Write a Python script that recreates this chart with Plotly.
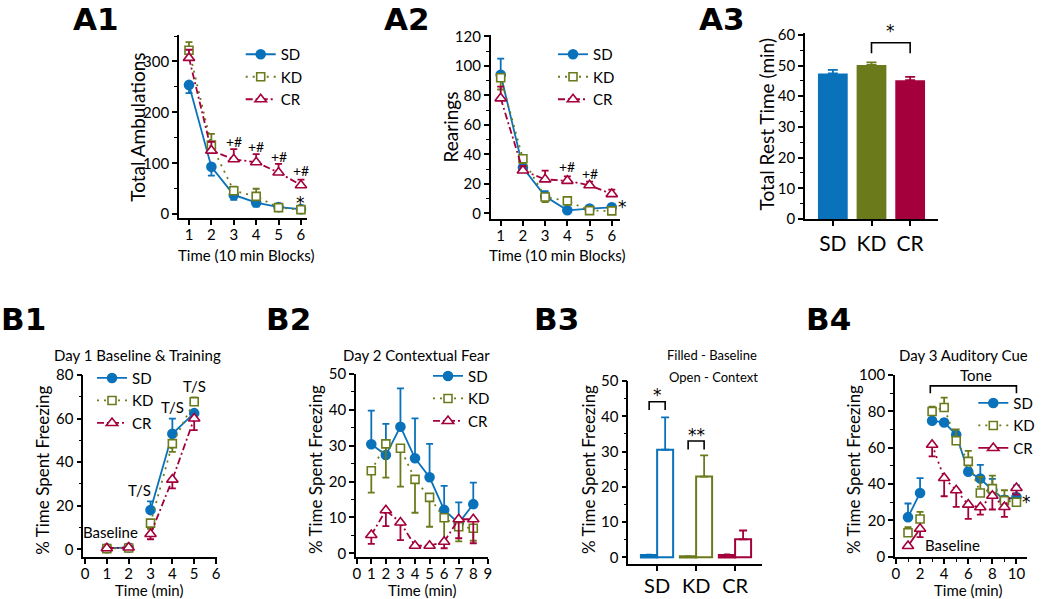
import plotly.graph_objects as go

FONT = "Lato"
SD_C = "#0a72ba"
KD_C = "#6b7b1c"
CR_C = "#a3003c"
W, H = 1050, 599

groups = ["SD", "KD", "CR"]

# ---------------- A1: Total ambulations ----------------
a1_time = [1, 2, 3, 4, 5, 6]
a1_sd = [254, 93, 38, 23, 14, 10]
a1_sd_dn = [16, 17, 10, 8, 4, 3]
a1_kd = [322, 136, 46, 35, 13, 9]
a1_kd_up = [16, 22, 8, 15, 4, 3]
a1_cr = [307, 125, 108, 102, 82, 57]
a1_cr_up = [16, 17, 20, 16, 17, 11]
a1_sig_x = [3, 4, 5, 6]
a1_sig_y = [143, 133, 114, 85]

# ---------------- A2: Rearings ----------------
a2_time = [1, 2, 3, 4, 5, 6]
a2_sd = [94, 31, 11.5, 2, 3.2, 4]
a2_sd_up = [11, 2, 3.5, 1, 1, 2]
a2_kd = [92, 37, 11, 8.4, 1.8, 1.6]
a2_kd_dn = [8, 3, 3.5, 1.5, 0.5, 0.5]
a2_cr = [78, 29, 23, 22, 19, 13]
a2_cr_up = [8, 3, 6, 3, 2.5, 3]
a2_sig_x = [4, 5]
a2_sig_y = [31.7, 26.7]

# ---------------- A3: Total rest time ----------------
a3_rest = [47.4, 50.2, 45.2]
a3_err = [1.2, 0.8, 1.1]

# ---------------- B1: Day 1 baseline & training ----------------
b1_time = [1, 2, 3, 4, 5]
b1_sd = [0.5, 0.8, 18, 53, 62.5]
b1_sd_up = [0, 0, 4, 7, 0]
b1_kd = [0.3, 0.6, 12, 48.5, 67.7]
b1_kd_up = [0, 0, 0, 0, 2]
b1_kd_dn = [0, 0, 2.6, 3.8, 0]
b1_cr = [0.5, 0.8, 7, 32, 60]
b1_cr_dn = [0, 0, 2.4, 4, 5.3]

# ---------------- B2: Day 2 contextual fear ----------------
b2_time = [1, 2, 3, 4, 5, 6, 7, 8]
b2_sd = [30.4, 27.4, 35.3, 26.5, 21.2, 12.1, 8.4, 13.7]
b2_sd_up = [9.4, 8.7, 10.7, 11.1, 9.3, 6.7, 5.8, 6.0]
b2_kd = [23, 30.5, 29.3, 20.6, 15.6, 9.9, 7.4, 7.0]
b2_kd_dn = [6.1, 9.4, 10.7, 9.3, 8.2, 6.6, 4.1, 3.5]
b2_cr = [5.1, 12, 8.6, 2.1, 2.1, 3.2, 9.5, 9.5]
b2_cr_dn = [2.5, 4.4, 4.9, 0, 0, 1.8, 5.3, 6.7]

# ---------------- B3: baseline vs context ----------------
b3_base = [0.6, 0.2, 0.6]
b3_base_err = [0.2, 0.1, 0.3]
b3_ctx = [30.5, 22.9, 5.1]
b3_ctx_err = [9.2, 6.0, 2.5]

# ---------------- B4: Day 3 auditory cue ----------------
b4_time = [1, 2, 3, 4, 5, 6, 7, 8, 9, 10]
b4_sd = [21.8, 35.1, 74.8, 73.9, 67.1, 46.8, 43.0, 36.6, 31.4, 32.9]
b4_sd_up = [7.5, 8.2, 1.5, 1.5, 1.5, 2, 7.6, 6.2, 2, 6.4]
b4_kd = [13.2, 20.8, 79.9, 82.1, 63.8, 52.5, 35.1, 37.5, 30.9, 30.0]
b4_kd_up = [3.1, 3.9, 2.7, 5.5, 6.3, 5.8, 8.8, 7.1, 5.7, 2]
b4_cr = [5.9, 15.4, 61.6, 43.3, 36.6, 28.7, 27.2, 33.6, 27.4, 37.8]
b4_cr_dn = [0, 4.6, 6.4, 10, 9.2, 7.9, 4, 7.6, 5.5, 3.6]

STY = {
    "SD": dict(color=SD_C, symbol="circle", size=9, fill=SD_C),
    "KD": dict(color=KD_C, symbol="square", size=8, fill="white"),
    "CR": dict(color=CR_C, symbol="triangle-up", size=10, fill="white"),
}
DASH = {"SD": "solid", "KD": "2px,5px", "CR": "7px,3px,2px,3px"}

fig = go.Figure()


def series(x, y, g, xa, ya, legend, up=None, dn=None, showlegend=True,
           dash=None, mode="lines+markers"):
    n = len(y)
    up = up if up is not None else [0] * n
    dn = dn if dn is not None else [0] * n
    s = STY[g]
    fig.add_trace(go.Scatter(
        x=x, y=y, name=g, mode=mode, xaxis=xa, yaxis=ya,
        legend=legend, showlegend=showlegend, cliponaxis=False,
        line=dict(color=s["color"], width=1.8, dash=dash or DASH[g]),
        marker=dict(symbol=s["symbol"], size=s["size"], color=s["fill"],
                    line=dict(color=s["color"], width=1.6)),
        error_y=dict(type="data", symmetric=False, array=up, arrayminus=dn,
                     color=s["color"], thickness=1.8, width=3.5),
    ))


# A1
series(a1_time, a1_sd, "SD", "x", "y", "legend", dn=a1_sd_dn)
series(a1_time, a1_kd, "KD", "x", "y", "legend", up=a1_kd_up)
series(a1_time, a1_cr, "CR", "x", "y", "legend", up=a1_cr_up)
# A2
series(a2_time, a2_sd, "SD", "x2", "y2", "legend2", up=a2_sd_up)
series(a2_time, a2_kd, "KD", "x2", "y2", "legend2", dn=a2_kd_dn)
series(a2_time, a2_cr, "CR", "x2", "y2", "legend2", up=a2_cr_up)
# A3
a3_cols = [SD_C, KD_C, CR_C]
for i, g in enumerate(groups):
    fig.add_trace(go.Bar(
        x=[i], y=[a3_rest[i]], width=0.77, xaxis="x3", yaxis="y3",
        marker=dict(color=a3_cols[i], line=dict(width=0)), showlegend=False,
        error_y=dict(type="data", symmetric=False, array=[a3_err[i]], arrayminus=[0],
                     color=a3_cols[i], thickness=1.8, width=5),
    ))

# B1 (baseline points 1-2, training points 3-5)
for g, y, up, dn in [("SD", b1_sd, b1_sd_up, None), ("KD", b1_kd, b1_kd_up, b1_kd_dn),
                     ("CR", b1_cr, None, b1_cr_dn)]:
    up = up or [0] * len(y)
    dn = dn or [0] * len(y)
    series(b1_time[:2], y[:2], g, "x4", "y4", "legend3", up[:2], dn[:2], showlegend=False)
    series(b1_time[2:], y[2:], g, "x4", "y4", "legend3", up[2:], dn[2:])

# B2
series(b2_time, b2_sd, "SD", "x5", "y5", "legend4", up=b2_sd_up)
series(b2_time, b2_kd, "KD", "x5", "y5", "legend4", dn=b2_kd_dn)
series(b2_time, b2_cr, "CR", "x5", "y5", "legend4", dn=b2_cr_dn)

# B3
BW = 0.41
for i, g in enumerate(groups):
    c = a3_cols[i]
    fig.add_trace(go.Bar(
        x=[i], y=[b3_base[i]], offset=-BW, width=BW, xaxis="x6", yaxis="y6",
        marker=dict(color=c, line=dict(color=c, width=2.5)), showlegend=False,
        error_y=dict(type="data", symmetric=False, array=[b3_base_err[i]], arrayminus=[0],
                     color=c, thickness=1.5, width=3),
    ))
    fig.add_trace(go.Bar(
        x=[i], y=[b3_ctx[i]], offset=0, width=BW, xaxis="x6", yaxis="y6",
        marker=dict(color="white", line=dict(color=c, width=2)), showlegend=False,
        error_y=dict(type="data", symmetric=False, array=[b3_ctx_err[i]], arrayminus=[0],
                     color=c, thickness=1.8, width=4),
    ))

# B4 (baseline 1-2, tone 3-10)
series(b4_time[:2], b4_sd[:2], "SD", "x7", "y7", "legend5", up=b4_sd_up[:2], showlegend=False)
series(b4_time[2:], b4_sd[2:], "SD", "x7", "y7", "legend5", up=b4_sd_up[2:])
series(b4_time[:2], b4_kd[:2], "KD", "x7", "y7", "legend5", up=b4_kd_up[:2], showlegend=False,
       mode="markers")
series(b4_time[2:], b4_kd[2:], "KD", "x7", "y7", "legend5", up=b4_kd_up[2:])
series(b4_time[:2], b4_cr[:2], "CR", "x7", "y7", "legend5", dn=b4_cr_dn[:2], dash="solid")
series(b4_time[2:], b4_cr[2:], "CR", "x7", "y7", "legend5", dn=b4_cr_dn[2:], showlegend=False,
       dash="2px,4px")


def px_x(px):
    return px / W


def px_y(py):
    return 1 - py / H


def axis(domain, rng, dtick=None, minor=None, anchor=None, tickvals=None, ticktext=None,
         tick0=0, fsize=15, standoff=0):
    d = dict(domain=domain, range=rng, showline=True, linecolor="black", linewidth=1.6,
             ticks="outside", ticklen=5, tickwidth=1.5, tickcolor="black",
             showgrid=False, zeroline=False, fixedrange=True, anchor=anchor,
             automargin=False, ticklabelstandoff=standoff,
             tickfont=dict(family=FONT, size=fsize, color="black"))
    if tickvals is not None:
        d.update(tickmode="array", tickvals=tickvals, ticktext=ticktext)
    else:
        d.update(dtick=dtick, tick0=tick0)
    if minor:
        d["minor"] = dict(ticks="outside", ticklen=3, tickwidth=1.2, tickcolor="black",
                          dtick=minor, tick0=0, showgrid=False)
    return d


layout_axes = dict(
    xaxis=axis([px_x(179), px_x(307)], [0.554, 6.27], dtick=1, tick0=1, anchor="y", standoff=-3),
    yaxis=axis([px_y(218.3), px_y(35)], [-8, 352], dtick=100, minor=50, anchor="x"),
    xaxis2=axis([px_x(490.7), px_x(620)], [0.55, 6.37], dtick=1, tick0=1, anchor="y2",
                standoff=-3),
    yaxis2=axis([px_y(219), px_y(35)], [-3.9, 121], dtick=20, minor=10, anchor="x2"),
    xaxis3=axis([px_x(805), px_x(938)], [-0.72, 2.72], tickvals=[0, 1, 2], ticktext=groups,
                anchor="y3", fsize=21),
    yaxis3=axis([px_y(219), px_y(33.3)], [0, 60.5], dtick=10, minor=5, anchor="x3"),
    xaxis4=axis([px_x(83.3), px_x(216.7)], [-0.077, 6.03], dtick=1, anchor="y4", standoff=-3),
    yaxis4=axis([px_y(556.7), px_y(375)], [-3.4, 80], dtick=20, minor=10, anchor="x4"),
    xaxis5=axis([px_x(356), px_x(488.3)], [-0.05, 9.03], dtick=1, anchor="y5", standoff=-3),
    yaxis5=axis([px_y(556.7), px_y(374)], [-0.95, 50], dtick=10, minor=5, anchor="x5"),
    xaxis6=axis([px_x(628.3), px_x(762)], [-0.74, 2.69], tickvals=[0, 1, 2], ticktext=groups,
                anchor="y6", fsize=20, standoff=-2),
    yaxis6=axis([px_y(564), px_y(381)], [-1.9, 50], dtick=10, minor=5, anchor="x6"),
    xaxis7=axis([px_x(895), px_x(1026.7)], [-0.08, 10.85], dtick=2, minor=1, anchor="y7",
                standoff=-3),
    yaxis7=axis([px_y(557.3), px_y(375)], [-0.3, 100], dtick=20, minor=10, anchor="x7"),
)

leg_common = dict(font=dict(family=FONT, size=15, color="black"), bgcolor="rgba(0,0,0,0)",
                  xanchor="left", yanchor="top", tracegroupgap=0, borderwidth=0)


def legend_at(line_x, first_y):
    d = dict(leg_common)
    d.update(x=px_x(line_x), y=px_y(first_y - 16))
    return d


ann = []


def text(x, y, s, size=15, xref="paper", yref="paper", angle=0, family=FONT, weight="normal",
         yshift=0):
    ann.append(dict(x=x, y=y, xref=xref, yref=yref, text=s, showarrow=False, textangle=angle,
                    font=dict(family=family, size=size, color="black", weight=weight),
                    xanchor="center", yanchor="middle", yshift=yshift))


STAR = "DejaVu Sans"

# panel labels
for lab, cx, cy in [("A1", 96, 19), ("A2", 406.5, 19), ("A3", 721.5, 19),
                    ("B1", 23.3, 318.5), ("B2", 288, 318.5), ("B3", 556.7, 318.5),
                    ("B4", 828.3, 318.5)]:
    text(px_x(cx), px_y(cy), lab, size=31, family="DejaVu Sans", weight="bold")

# axis titles
text(px_x(136.7), px_y(127), "Total Ambulations", size=19, angle=-90)
text(px_x(246), px_y(255), "Time (10 min Blocks)", size=15)
text(px_x(450), px_y(127.5), "Rearings", size=19, angle=-90)
text(px_x(557), px_y(255), "Time (10 min Blocks)", size=15)
text(px_x(765.5), px_y(125), "Total Rest Time (min)", size=19, angle=-90)
for cx in [41.7, 315, 588, 853]:
    text(px_x(cx), px_y(470), "% Time Spent Freezing", size=17, angle=-90)
for cx in [149, 421.7, 968]:
    text(px_x(cx), px_y(589.5), "Time (min)", size=15)

# panel titles
text(px_x(137), px_y(355), "Day 1 Baseline &amp; Training", size=15)
text(px_x(416.7), px_y(355), "Day 2 Contextual Fear", size=15)
text(px_x(963), px_y(355), "Day 3 Auditory Cue", size=15)
text(px_x(711.7), px_y(355), "Filled - Baseline", size=13)
text(px_x(713.3), px_y(376.7), "Open - Context", size=13)

# significance marks
for xv, yv in zip(a1_sig_x, a1_sig_y):
    text(xv, yv, "+#", size=14, xref="x", yref="y")
text(6, 28, "*", size=17, xref="x", yref="y", family=STAR, yshift=-3)
for xv, yv in zip(a2_sig_x, a2_sig_y):
    text(xv, yv, "+#", size=14, xref="x2", yref="y2")
text(px_x(622), px_y(207), "*", size=17, family=STAR)
text(px_x(890), px_y(31), "*", size=17, family=STAR)
text(0, 47, "*", size=17, xref="x6", yref="y6", family=STAR, yshift=-3)
text(1, 35.6, "**", size=17, xref="x6", yref="y6", family=STAR, yshift=-3)
text(10.8, 32, "*", size=17, xref="x7", yref="y7", family=STAR, yshift=-3)

# B1 / B4 labels
text(2.5, 27.2, "T/S", size=15, xref="x4", yref="y4")
text(4.0, 65.4, "T/S", size=15, xref="x4", yref="y4")
text(5.0, 74.9, "T/S", size=15, xref="x4", yref="y4")
text(1.18, 7.8, "Baseline", size=15, xref="x4", yref="y4")
text(6.65, 100, "Tone", size=15, xref="x7", yref="y7")
text(4.7, 6.7, "Baseline", size=15, xref="x7", yref="y7")


def bracket(xref, yref, x0, x1, ytop, ybot):
    return dict(type="path", xref=xref, yref=yref,
                path=f"M {x0},{ybot} L {x0},{ytop} L {x1},{ytop} L {x1},{ybot}",
                line=dict(color="black", width=1.6))


shapes = [
    bracket("x3", "y3", 1, 2, 57.4, 54),
    bracket("x6", "y6", -BW / 2, BW / 2, 44.1, 41.8),
    bracket("x6", "y6", 1 - BW / 2, 1 + BW / 2, 33.0, 30.6),
    bracket("x7", "y7", 2.85, 10, 94, 90),
]

fig.update_layout(
    template="none",
    width=W, height=H, margin=dict(l=0, r=0, t=0, b=0, autoexpand=False),
    paper_bgcolor="white", plot_bgcolor="white",
    barmode="overlay", showlegend=True,
    font=dict(family=FONT, color="black"),
    legend=legend_at(240.7, 54),
    legend2=legend_at(553, 54),
    legend3=legend_at(92, 377.7),
    legend4=legend_at(428, 375.7),
    legend5=legend_at(973.3, 402.7),
    annotations=ann, shapes=shapes,
    **layout_axes,
)

fig.write_html("out.html",
               config={"displayModeBar": False},
               post_script="document.body.style.margin='0px';"
                           "document.body.style.overflow='hidden';")
